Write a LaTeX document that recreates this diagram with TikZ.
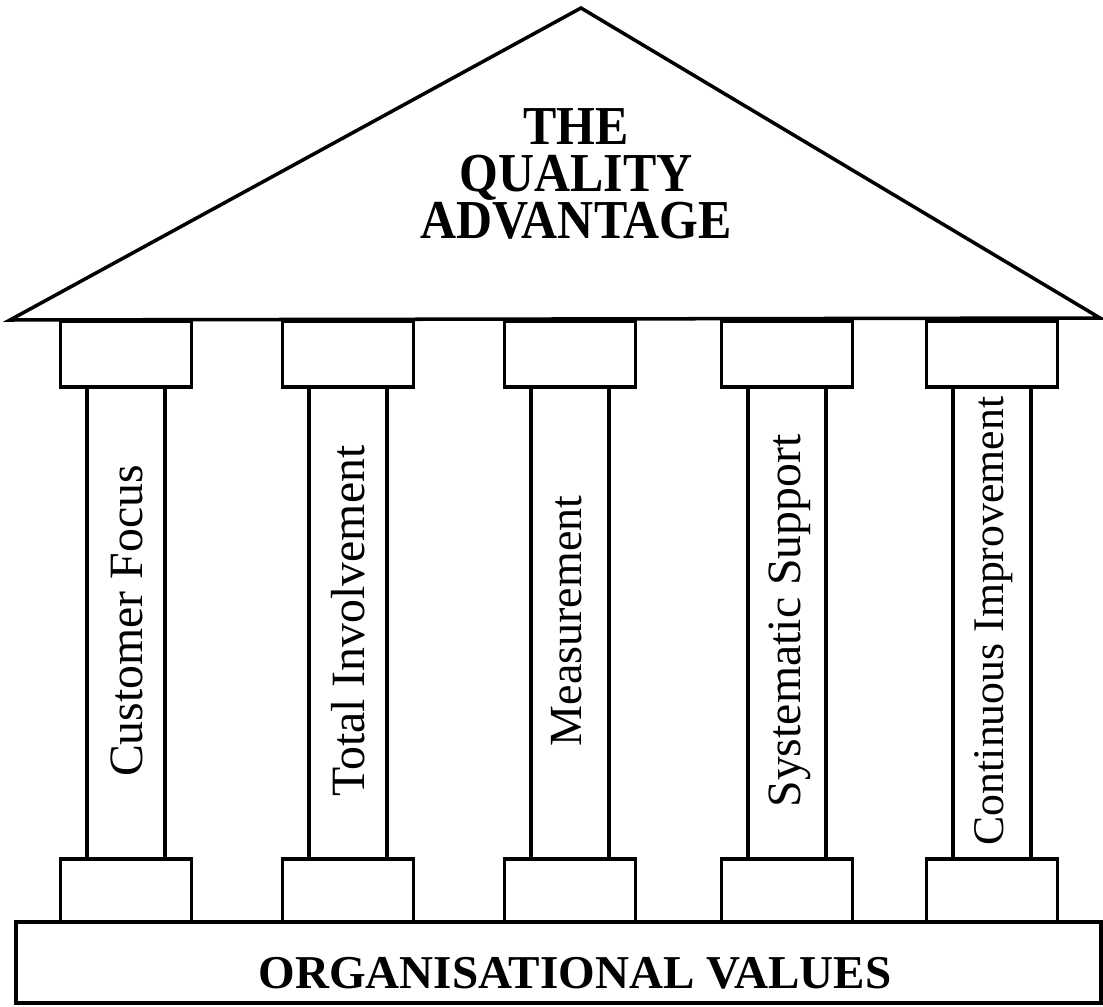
\documentclass[tikz,border=0pt]{standalone}
\usepackage{fontspec}
\setmainfont{Liberation Serif}
\tikzset{
  wall/.style={line width=2pt, line join=miter},
  pillar label/.style={rotate=90, anchor=base},
}
\begin{document}
\begin{tikzpicture}[x=0.02cm,y=-0.02cm]
  \useasboundingbox (0,0) rectangle (1103,1007);
  % roof
  \draw[wall] (10,320) -- (581,8) -- (1100,318) -- cycle;
  \node[font=\bfseries\fontsize{28.4}{24.2}\selectfont, align=center, yscale=1.1] (title) at (576,174) {THE\\QUALITY\\ADVANTAGE};
  % pillars
  \foreach[count=\i] \x/\b/\s/\t in {126/142/27.2/Customer Focus, 348/364/27.2/Total Involvement, 570/581/26.2/Measurement, 787/800/27.2/Systematic Support, 992/1003/24.9/Continuous Improvement} {
    \draw[wall] (\x-65.5,321) rectangle (\x+65.5,387);
    \draw[wall] (\x-39,387) rectangle (\x+39,859);
    \draw[wall] (\x-65.5,859) rectangle (\x+65.5,922);
    \node[pillar label, font=\fontsize{\s}{\s}\selectfont] (label\i) at (\b,621) {\t};
  }
  % foundation
  \draw[wall] (16,922) rectangle (1101,1003);
  \node[anchor=base, font=\bfseries\fontsize{26.8}{28}\selectfont] (values) at (575,988) {ORGANISATIONAL VALUES};
\end{tikzpicture}
\end{document}
